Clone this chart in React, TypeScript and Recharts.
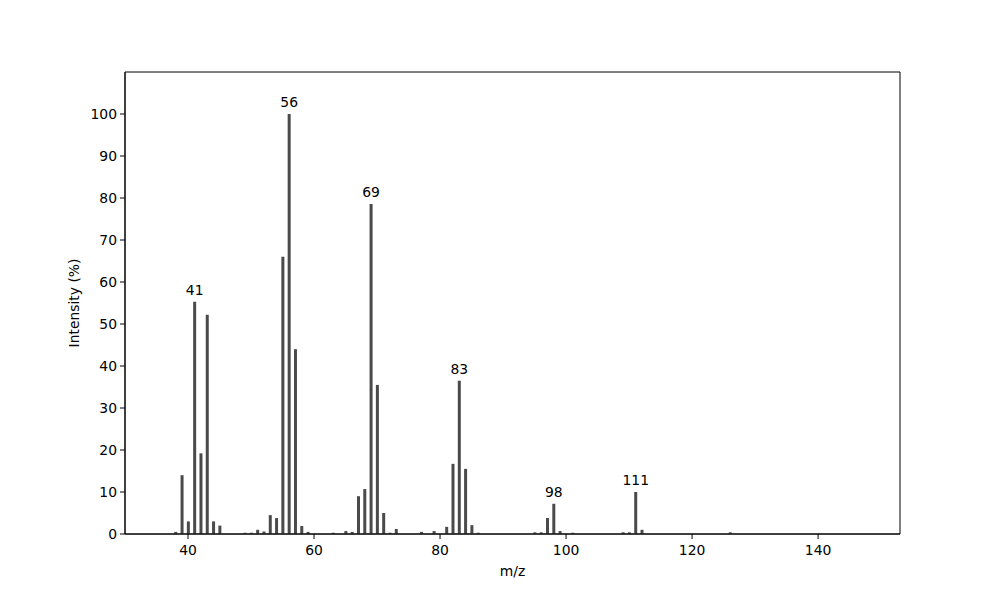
import { BarChart, Bar, XAxis, YAxis, LabelList, ReferenceArea } from "recharts";

const mz = [
  38, 39, 40, 41, 42, 43, 44, 45, 49, 50, 51, 52, 53, 54, 55, 56, 57, 58, 59,
  63, 65, 66, 67, 68, 69, 70, 71, 72, 73, 77, 79, 81, 82, 83, 84, 85, 86,
  95, 96, 97, 98, 99, 101, 109, 110, 111, 112, 126,
];
const intensity = [
  0.5, 14, 3, 55.3, 19.2, 52.2, 3, 2, 0.3, 0.3, 1, 0.6, 4.5, 3.8, 66, 100, 44, 1.9, 0.5,
  0.3, 0.7, 0.5, 9, 10.7, 78.6, 35.5, 5, 0.3, 1.2, 0.5, 0.7, 1.7, 16.7, 36.5, 15.5, 2.1, 0.3,
  0.4, 0.4, 3.8, 7.2, 0.7, 0.3, 0.4, 0.4, 10, 1, 0.4,
];
const labeledPeaks = [41, 56, 69, 83, 98, 111];

const xTicks = [40, 60, 80, 100, 120, 140];
const yTicks = [0, 10, 20, 30, 40, 50, 60, 70, 80, 90, 100];

const data = mz.map((m, i) => ({
  mz: m,
  value: intensity[i],
  label: labeledPeaks.includes(m) ? String(m) : "",
}));

const FONT = "DejaVu Sans";
const tickStyle = { fontSize: 13.9, fill: "#000", fontFamily: FONT };

export default function App() {
  return (
    <div style={{ position: "absolute", left: 0, top: 0, background: "#fff" }}>
      <BarChart
        width={1000}
        height={600}
        data={data}
        margin={{ top: 72, right: 100, bottom: 36, left: 65 }}
        barSize={3}
      >
        <XAxis
          dataKey="mz"
          type="number"
          domain={[30, 153]}
          ticks={xTicks}
          allowDataOverflow
          height={30}
          tickSize={5}
          tickMargin={6}
          tick={tickStyle}
          stroke="#000"
          tickLine={{ stroke: "#000" }}
          axisLine={{ stroke: "#000" }}
          label={{ value: "m/z", position: "bottom", offset: 2, style: { ...tickStyle } }}
        />
        <YAxis
          type="number"
          domain={[0, 110]}
          ticks={yTicks}
          allowDataOverflow
          width={60}
          tickSize={5}
          tickMargin={3}
          tick={tickStyle}
          tickLine={{ stroke: "#000" }}
          axisLine={{ stroke: "#000" }}
          label={{
            value: "Intensity (%)",
            angle: -90,
            position: "insideLeft",
            offset: 9,
            style: { ...tickStyle, textAnchor: "middle" },
          }}
        />
        <ReferenceArea
          x1={30}
          x2={153}
          y1={0}
          y2={110}
          fill="none"
          fillOpacity={0}
          stroke="#000"
          strokeWidth={1}
          ifOverflow="visible"
        />
        <Bar dataKey="value" fill="#4a4a4a" isAnimationActive={false}>
          <LabelList
            dataKey="label"
            position="top"
            offset={7}
            style={{ fontSize: 13.9, fill: "#000", fontFamily: FONT }}
          />
        </Bar>
      </BarChart>
    </div>
  );
}
